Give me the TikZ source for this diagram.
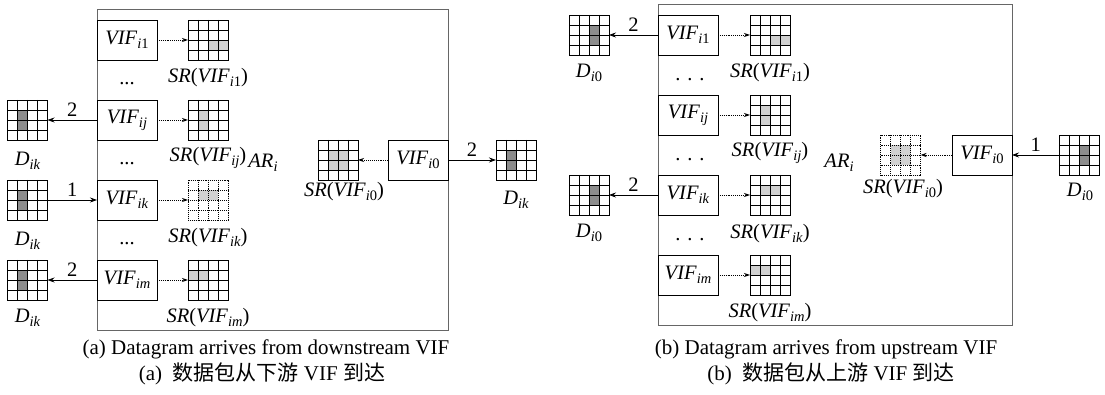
\documentclass[tikz,border=0pt]{standalone}
\usepackage{fontspec}
\setmainfont{Liberation Serif}
\newfontfamily\cjk{Noto Sans CJK SC}
\usetikzlibrary{arrows.meta,calc}
\definecolor{lightc}{gray}{0.82}
\definecolor{darkc}{gray}{0.55}
\definecolor{framec}{gray}{0.4}
\newcommand\vsub[1]{\raisebox{-0.4ex}{\fontsize{14.5}{14.5}\selectfont #1}}
\newcommand\vif[1]{\textit{VIF}\vsub{#1}}
\newcommand\srl[1]{\textit{SR}(\textit{VIF}\vsub{#1})}
\newcommand\cellgrid[4]{%
  \node[gbox,#3] (#1) at (#2) {};
  \foreach \c/\r/\f in {#4}{\fill[\f] ($(#1.north west)+(\c*10-10,\r*10-10)$) rectangle +(10,10);}
  \foreach \i in {1,2,3}{%
    \draw[gline,#3] ($(#1.north west)+(\i*10,0)$) -- +(0,40);
    \draw[gline,#3] ($(#1.north west)+(0,\i*10)$) -- +(40,0);}
  \node[gbox,#3] at (#1) {};
}
\tikzset{
  gbox/.style={draw=black,line width=0.9pt,minimum size=40pt,inner sep=0pt,outer sep=0pt},
  gline/.style={black,line width=0.9pt},
  vbox/.style={draw=black,line width=0.8pt,minimum width=60pt,minimum height=40pt,inner sep=0pt,outer sep=0pt,font=\fontsize{20.5}{22}\selectfont},
  txt/.style={font=\fontsize{20.5}{22}\selectfont,inner sep=1pt},
  frame/.style={draw=framec,line width=0.8pt},
  arr/.style={line width=0.8pt,-{Stealth[length=7pt,width=5pt]}},
  darr/.style={line width=0.9pt,densely dotted,-{Stealth[length=6pt,width=4pt]}},
  lab/.style={above,font=\fontsize{20.5}{22}\selectfont,inner sep=3pt},
  captxt/.style={font=\fontsize{21}{23}\selectfont,inner sep=0pt,anchor=base},
}
\begin{document}
\begin{tikzpicture}[x=1pt,y=-1pt]
\useasboundingbox (0,0) rectangle (1105,395);
% ---------------- panel (a) ----------------
\draw[frame] (97,9) rectangle (448,330);
\node[vbox] (a1) at (127,40) {\vif{\textit{i}1}};
\node[vbox] (aj) at (127,120) {\vif{\textit{ij}}};
\node[vbox] (ak) at (127,200) {\vif{\textit{ik}}};
\node[vbox] (am) at (127,280) {\vif{\textit{im}}};
\node[txt] (ad1) at (127,84) {...};
\node[txt] (ad2) at (127,164) {...};
\node[txt] (ad3) at (127,244) {...};
\cellgrid{sa1}{208,40}{solid}{3/3/lightc,4/3/lightc}
\cellgrid{saj}{208,120}{solid}{2/2/lightc,2/3/lightc}
\cellgrid{sak}{208,200}{densely dotted}{2/2/lightc,3/2/lightc}
\cellgrid{sam}{208,280}{solid}{1/2/lightc,2/2/lightc}
\node[txt] (lsa1) at (208,78) {\srl{\textit{i}1}};
\node[txt] (lsaj) at (208,158) {\srl{\textit{ij}}};
\node[txt] (lsak) at (208,238) {\srl{\textit{ik}}};
\node[txt] (lsam) at (208,318) {\srl{\textit{im}}};
\draw[darr] (a1) -- (sa1);
\draw[darr] (aj) -- (saj);
\draw[darr] (ak) -- (sak);
\draw[darr] (am) -- (sam);
\cellgrid{da1}{27.5,120}{solid}{2/2/darkc,2/3/darkc}
\cellgrid{da2}{27.5,200}{solid}{2/2/darkc,2/3/darkc}
\cellgrid{da3}{27.5,280}{solid}{2/2/darkc,2/3/darkc}
\node[txt] (lda1) at (27.5,161) {\textit{D}\vsub{\textit{ik}}};
\node[txt] (lda2) at (27.5,241) {\textit{D}\vsub{\textit{ik}}};
\node[txt] (lda3) at (27.5,318) {\textit{D}\vsub{\textit{ik}}};
\draw[arr] (aj) -- node[lab]{2} (da1);
\draw[arr] (da2) -- node[lab]{1} (ak);
\draw[arr] (am) -- node[lab]{2} (da3);
\node[txt] (ara) at (263,163) {\textit{AR}\vsub{\textit{i}}};
\cellgrid{sa0}{338,160}{solid}{2/2/lightc,3/2/lightc,2/3/lightc,3/3/lightc}
\node[txt] (lsa0) at (344,192) {\srl{\textit{i}0}};
\node[vbox] (a0) at (418,160) {\vif{\textit{i}0}};
\draw[darr] (a0) -- (sa0);
\cellgrid{da0}{516,160}{solid}{2/2/darkc,2/3/darkc}
\node[txt] (lda0) at (516,200) {\textit{D}\vsub{\textit{ik}}};
\draw[arr] (a0) -- node[lab]{2} (da0);
\node[captxt] (capa1) at (266,354) {(a) Datagram arrives from downstream VIF};
\node[captxt] (capa2) at (262,380) {(a)\ \ {\cjk 数据包从下游} VIF {\cjk 到达}};
% ---------------- panel (b) ----------------
\draw[frame] (658,4) rectangle (1012,325);
\node[vbox] (b1) at (688,35) {\vif{\textit{i}1}};
\node[vbox] (bj) at (688,115) {\vif{\textit{ij}}};
\node[vbox] (bk) at (688,195) {\vif{\textit{ik}}};
\node[vbox] (bm) at (688,275) {\vif{\textit{im}}};
\node[txt] (bd1) at (690,80) {.\,\,.\,\,.};
\node[txt] (bd2) at (690,160) {.\,\,.\,\,.};
\node[txt] (bd3) at (690,240) {.\,\,.\,\,.};
\cellgrid{sb1}{770,35}{solid}{3/3/lightc,4/3/lightc}
\cellgrid{sbj}{770,115}{solid}{2/2/lightc,2/3/lightc}
\cellgrid{sbk}{770,195}{solid}{2/2/lightc,3/2/lightc}
\cellgrid{sbm}{770,275}{solid}{1/2/lightc,2/2/lightc}
\node[txt] (lsb1) at (770,73) {\srl{\textit{i}1}};
\node[txt] (lsbj) at (770,153) {\srl{\textit{ij}}};
\node[txt] (lsbk) at (770,234) {\srl{\textit{ik}}};
\node[txt] (lsbm) at (770,313) {\srl{\textit{im}}};
\draw[darr] (b1) -- (sb1);
\draw[darr] (bj) -- (sbj);
\draw[darr] (bk) -- (sbk);
\draw[darr] (bm) -- (sbm);
\cellgrid{db1}{589,35}{solid}{3/2/darkc,3/3/darkc}
\cellgrid{db2}{589,195}{solid}{3/2/darkc,3/3/darkc}
\node[txt] (ldb1) at (589,73) {\textit{D}\vsub{\textit{i}0}};
\node[txt] (ldb2) at (589,233) {\textit{D}\vsub{\textit{i}0}};
\draw[arr] (b1) -- node[lab]{2} (db1);
\draw[arr] (bk) -- node[lab]{2} (db2);
\node[txt] (arb) at (839,163) {\textit{AR}\vsub{\textit{i}}};
\cellgrid{sb0}{900.5,155}{densely dotted}{2/2/lightc,3/2/lightc,2/3/lightc,3/3/lightc}
\node[txt] (lsb0) at (903,189) {\srl{\textit{i}0}};
\node[vbox] (b0) at (982,155) {\vif{\textit{i}0}};
\draw[darr] (b0) -- (sb0);
\cellgrid{db0}{1079.5,155}{solid}{3/2/darkc,3/3/darkc}
\node[txt] (ldb0) at (1080,192) {\textit{D}\vsub{\textit{i}0}};
\draw[arr] (db0) -- node[lab]{1} (b0);
\node[captxt] (capb1) at (826,354) {(b) Datagram arrives from upstream VIF};
\node[captxt] (capb2) at (831,380) {(b)\ \ {\cjk 数据包从上游} VIF {\cjk 到达}};
\end{tikzpicture}
\end{document}
